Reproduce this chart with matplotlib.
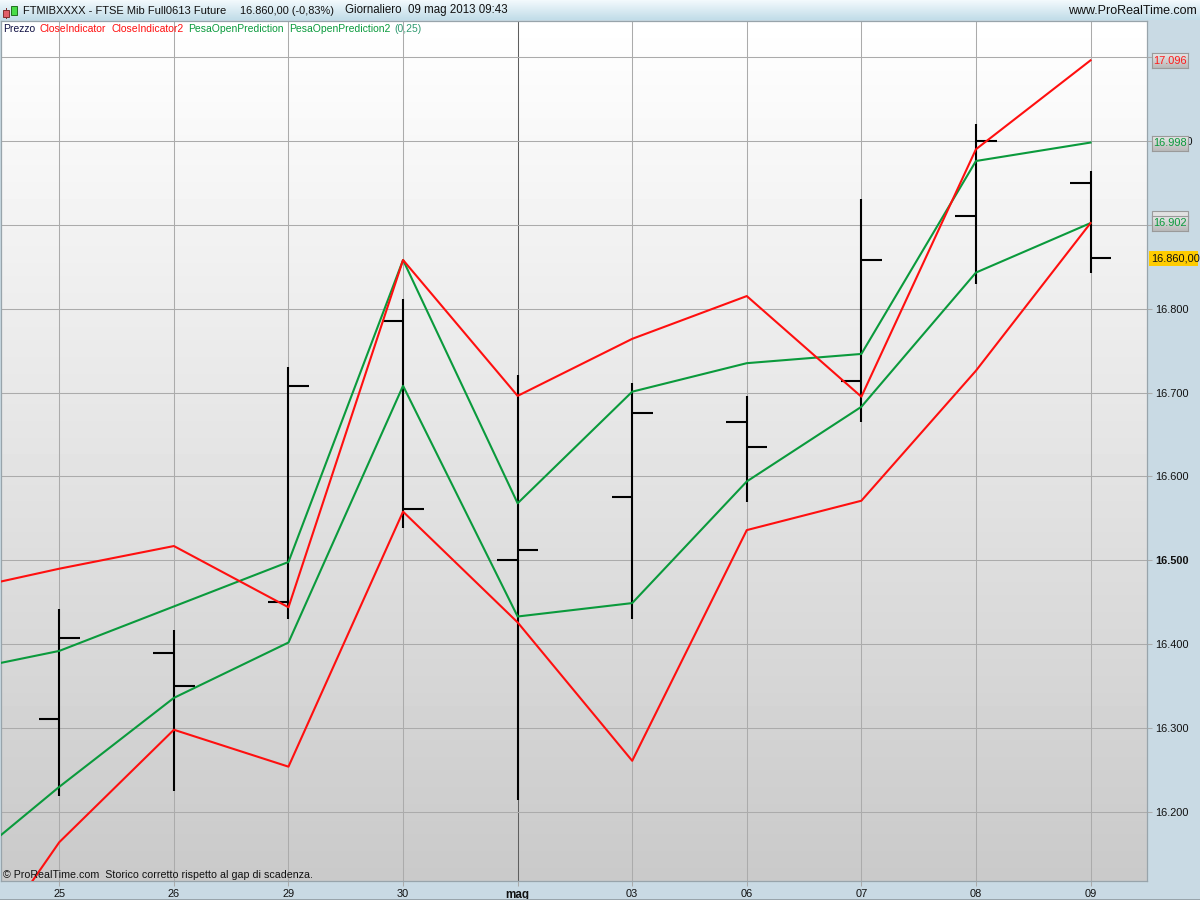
import numpy as np
import matplotlib
matplotlib.use("Agg")
import matplotlib.pyplot as plt
from matplotlib.colors import LinearSegmentedColormap
from matplotlib.patches import Rectangle
from matplotlib.transforms import ScaledTranslation

plt.rcParams['font.family'] = ['Liberation Sans', 'DejaVu Sans']

# index -1 is the session before the visible window, only its line stub shows
days = ['25', '26', '29', '30', 'mag', '03', '06', '07', '08', '09']
line_x = [-1, 0, 1, 2, 3, 4, 5, 6, 7, 8, 9]

bar_high = [16442, 16417, 16731, 16811, 16721, 16711, 16696, 16931, 17020, 16964]
bar_low = [16219, 16225, 16430, 16539, 16214, 16430, 16569, 16665, 16829, 16843]
bar_open = [16311, 16390, 16450, 16785, 16500, 16575, 16665, 16714, 16910, 16950]
bar_close = [16407, 16350, 16708, 16561, 16512, 16676, 16635, 16858, 17000, 16860]

close_ind = [16460, 16490, 16517, 16444, 16858, 16696, 16764, 16815, 16695, 16990, 17096]
close_ind2 = [15967, 16164, 16298, 16254, 16558, 16426, 16261, 16536, 16571, 16726, 16902]
pesa_open = [16364, 16392, 16445, 16498, 16858, 16568, 16701, 16735, 16746, 16976, 16998]
pesa_open2 = [16117, 16230, 16336, 16402, 16708, 16433, 16449, 16594, 16683, 16843, 16902]

price_ticks = [16200, 16300, 16400, 16500, 16600, 16700, 16800, 16900, 17000, 17100]
price_boxes = [(17096, '17.096', '#ff1a1a'), (16998, '16.998', '#0a9a3c'), (16902, '16.902', '#0a9a3c')]

RED = '#ff0f0f'
GREEN = '#0a9a3c'
GRID = '#ababab'
PANEL = '#c9dae4'
EDGE = '#98a4ab'
TEXT = '#111111'
W, H = 1200, 900
Y_LOW, Y_HIGH = 16117.7, 17142.9


def fx(x):
    return x / W


def fy(y):
    return 1 - y / H


def put(x, y, s, **kw):
    kw.setdefault('fontsize', 7.9)
    kw.setdefault('va', 'center')
    kw.setdefault('zorder', 22)
    return fig.text(fx(x), fy(y), s, **kw)


def box(x0, y0, x1, y1, **kw):
    kw.setdefault('zorder', 20)
    fig.add_artist(Rectangle((fx(x0), fy(y1)), (x1 - x0) / W, (y1 - y0) / H, **kw))


def grad_box(x0, y0, x1, y1):
    a = fig.add_axes([fx(x0), fy(y1), (x1 - x0) / W, (y1 - y0) / H], zorder=20)
    a.imshow(np.linspace(0.9, 0.73, 16).reshape(-1, 1), cmap='gray', vmin=0, vmax=1, aspect='auto')
    a.set_xticks([])
    a.set_yticks([])
    for s in a.spines.values():
        s.set_color('#9a9a9a')
        s.set_linewidth(0.8)


fig = plt.figure(figsize=(12, 9), dpi=100, facecolor=PANEL)

# title bar
bar = fig.add_axes([0, fy(20), 1, 20 / H], zorder=1)
bar.imshow(np.linspace(0, 1, 20).reshape(-1, 1), aspect='auto',
           cmap=LinearSegmentedColormap.from_list('tb', ['#f2f9fc', '#c2dde9']))
bar.axis('off')

# main chart
ax = fig.add_axes([fx(1), fy(881), 1146 / W, 860 / H], zorder=2)
ax.set_xlim(-0.509, 9.493)
ax.set_ylim(Y_LOW, Y_HIGH)
ax.imshow(np.linspace(1, 0.79, 256).reshape(-1, 1), cmap='gray', vmin=0, vmax=1, aspect='auto',
          extent=[-0.509, 9.493, Y_LOW, Y_HIGH], zorder=0)

ax.set_xticks(range(len(days)))
ax.set_xticklabels(days, fontsize=7.9)
ax.set_yticks(price_ticks)
ax.set_yticklabels([f'{v / 1000:.3f}' for v in price_ticks], fontsize=7.9)
ax.yaxis.tick_right()
ax.tick_params(axis='both', length=3.6, width=0.75, color=GRID, labelcolor=TEXT)
ax.tick_params(axis='y', pad=2)
ax.tick_params(axis='x', pad=2.4)
ax.grid(True, color=GRID, linewidth=0.75)
ax.set_axisbelow(True)
for s in ax.spines.values():
    s.set_color(EDGE)
    s.set_linewidth(0.9)

# "mag" starts a new month, darker gridline and bold label
ax.get_xgridlines()[4].set_color('#5f5f5f')
ax.get_xticklabels()[4].set_fontweight('bold')
ax.get_xticklabels()[4].set_fontsize(8.4)
ax.get_yticklabels()[3].set_fontweight('bold')

# the 17.000 label pokes out a bit from behind its value box
lab = ax.get_yticklabels()[8]
lab.set_transform(lab.get_transform() + ScaledTranslation(3.2 / 72, 0, fig.dpi_scale_trans))

# price bars
tick_w = 0.18
for i in range(len(days)):
    ax.plot([i, i], [bar_low[i], bar_high[i]], color='black', lw=1.5, zorder=3, solid_capstyle='butt')
    ax.plot([i - tick_w, i], [bar_open[i], bar_open[i]], color='black', lw=1.5, zorder=3, solid_capstyle='butt')
    ax.plot([i, i + tick_w], [bar_close[i], bar_close[i]], color='black', lw=1.5, zorder=3, solid_capstyle='butt')

# indicators
ax.plot(line_x, pesa_open, color=GREEN, lw=1.5, zorder=4)
ax.plot(line_x, pesa_open2, color=GREEN, lw=1.5, zorder=4)
ax.plot(line_x, close_ind, color=RED, lw=1.5, zorder=5)
ax.plot(line_x, close_ind2, color=RED, lw=1.5, zorder=5)

# header texts
put(23, 10.5, 'FTMIBXXXX - FTSE Mib Full0613 Future', color=TEXT, fontsize=8.05)
put(240, 10.5, '16.860,00 (-0,83%)', color=TEXT, fontsize=7.9)
put(345, 10.5, 'Giornaliero  09 mag 2013 09:43', color=TEXT, fontsize=8.3)
put(1197, 10.5, 'www.ProRealTime.com', color=TEXT, fontsize=9, ha='right')

# small candle icon in the title bar
box(6, 8, 6.8, 19, fc='#803030', ec='none')
box(3, 10, 9, 17, fc='#e0606a', ec='#803030', lw=0.7, zorder=21)
box(13.6, 3, 14.4, 19, fc='#207020', ec='none')
box(11, 6, 17, 15, fc='#48dc48', ec='#207020', lw=0.7, zorder=21)

# legend row
for x, s, c in [(3, 'Prezzo', '#111144'), (40, 'CloseIndicator', RED), (111, 'CloseIndicator2', RED),
                (188, 'PesaOpenPrediction', GREEN), (289, 'PesaOpenPrediction2', GREEN), (394, '(0,25)', '#2f9a70')]:
    put(x, 28.5, s, color=c, fontsize=7.5)

put(3, 875, '\u00a9 ProRealTime.com  Storico corretto rispetto al gap di scadenza.', color=TEXT, fontsize=7.7)

# value boxes on the price axis, they hide the round tick labels below them
box(1152, 211, 1188, 225, fc='#e2e2e2', ec='#9a9a9a', lw=0.8)
for v, s, c in price_boxes:
    y = round(812 - (v - 16200) * 860 / (Y_HIGH - Y_LOW))
    grad_box(1152, y - 7, 1188, y + 8)
    put(1170, y + 0.5, s, color=c, ha='center')

box(1149, 251, 1198, 266, fc='#ffcc00', ec='none')
put(1151, 258.5, '16.860,00', color=TEXT)

# window edge at the bottom
box(0, 898.5, 1200, 900, fc=EDGE, ec='none')

fig.savefig('out.png', dpi=100, facecolor=fig.get_facecolor())
